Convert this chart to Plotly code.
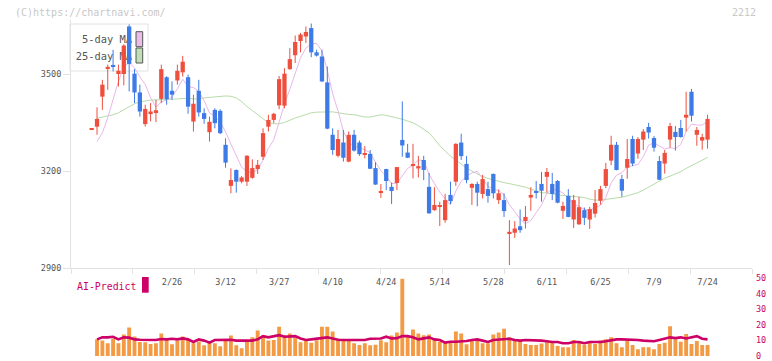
import plotly.graph_objects as go

# ---------------- data ----------------
opens = [3328, 3337, 3430, 3518, 3526, 3500, 3500, 3647, 3501, 3443,
         3345, 3376, 3382, 3423, 3490, 3448, 3480, 3505, 3490, 3353,
         3448, 3379, 3320, 3389, 3386, 3281, 3154, 3203, 3167, 3167,
         3179, 3206, 3244, 3337, 3358, 3403, 3402, 3515, 3558, 3602,
         3616, 3642, 3567, 3554, 3474, 3312, 3247, 3288, 3229, 3312,
         3288, 3250, 3253, 3209, 3132, 3206, 3151, 3163, 3296, 3257,
         3217, 3208, 3234, 3151, 3079, 3089, 3048, 3126, 3167, 3288,
         3222, 3148, 3160, 3129, 3144, 3191, 3110, 3110, 3007, 3009,
         3029, 3045, 3118, 3135, 3160, 3182, 3160, 3169, 3077, 3123,
         3050, 3035, 3079, 3050, 3068, 3108, 3154, 3232, 3281, 3175,
         3210, 3299, 3254, 3297, 3336, 3302, 3231, 3223, 3297, 3321,
         3333, 3365, 3445, 3312, 3294, 3297]
highs = [3333, 3397, 3482, 3529, 3575, 3529, 3592, 3653, 3515, 3467,
         3405, 3410, 3420, 3529, 3493, 3477, 3529, 3556, 3498, 3436,
         3482, 3394, 3368, 3394, 3391, 3301, 3208, 3205, 3184, 3249,
         3236, 3234, 3332, 3374, 3380, 3494, 3518, 3580, 3619, 3627,
         3647, 3656, 3575, 3575, 3523, 3332, 3327, 3327, 3322, 3327,
         3294, 3277, 3265, 3227, 3160, 3207, 3164, 3213, 3415, 3284,
         3284, 3247, 3247, 3194, 3150, 3105, 3129, 3167, 3286, 3315,
         3246, 3162, 3167, 3188, 3167, 3192, 3143, 3131, 3048, 3045,
         3081, 3092, 3150, 3169, 3197, 3209, 3194, 3172, 3105, 3144,
         3126, 3120, 3087, 3089, 3141, 3154, 3225, 3309, 3290, 3188,
         3299, 3309, 3305, 3330, 3349, 3308, 3246, 3265, 3349, 3339,
         3358, 3445, 3454, 3336, 3315, 3374]
lows = [3327, 3312, 3389, 3451, 3508, 3461, 3465, 3446, 3410, 3368,
        3337, 3353, 3351, 3410, 3405, 3420, 3467, 3492, 3377, 3322,
        3368, 3346, 3291, 3332, 3314, 3210, 3131, 3133, 3162, 3154,
        3176, 3191, 3234, 3322, 3348, 3391, 3394, 3513, 3534, 3567,
        3596, 3552, 3554, 3475, 3329, 3250, 3242, 3229, 3227, 3260,
        3247, 3239, 3206, 3157, 3117, 3141, 3098, 3141, 3244, 3240,
        3177, 3180, 3172, 3068, 3077, 3030, 3040, 3098, 3154, 3234,
        3162, 3095, 3091, 3115, 3102, 3115, 3098, 3058, 2909, 2993,
        3009, 3022, 3077, 3115, 3105, 3133, 3110, 3100, 3052, 3057,
        3024, 3034, 3033, 3021, 3056, 3096, 3147, 3218, 3202, 3120,
        3176, 3215, 3238, 3265, 3300, 3260, 3172, 3192, 3272, 3263,
        3303, 3322, 3353, 3278, 3266, 3269]
closes = [3331, 3361, 3467, 3522, 3524, 3510, 3588, 3531, 3443, 3384,
          3392, 3384, 3388, 3515, 3422, 3436, 3510, 3538, 3399, 3408,
          3381, 3361, 3352, 3348, 3317, 3226, 3172, 3167, 3180, 3247,
          3209, 3219, 3317, 3358, 3377, 3484, 3501, 3546, 3599, 3622,
          3630, 3567, 3557, 3477, 3331, 3265, 3299, 3241, 3312, 3263,
          3252, 3253, 3207, 3158, 3135, 3169, 3138, 3212, 3279, 3241,
          3221, 3215, 3203, 3069, 3095, 3092, 3110, 3107, 3284, 3246,
          3172, 3160, 3133, 3175, 3123, 3131, 3131, 3076, 3012, 3022,
          3017, 3058, 3126, 3133, 3139, 3197, 3129, 3102, 3092, 3058,
          3110, 3088, 3055, 3082, 3101, 3144, 3206, 3281, 3203, 3139,
          3237, 3223, 3299, 3322, 3319, 3272, 3173, 3256, 3339, 3305,
          3305, 3374, 3371, 3327, 3305, 3361]

# 5-day and 25-day moving averages (first candle has none)
ma5 = [None,
       3291, 3318, 3365, 3420, 3477, 3522, 3535, 3519, 3491, 3468,
       3427, 3398, 3413, 3420, 3429, 3454, 3484, 3461, 3458, 3447,
       3417, 3380, 3370, 3352, 3321, 3283, 3246, 3212, 3198, 3195,
       3204, 3234, 3270, 3296, 3351, 3407, 3453, 3501, 3550, 3580,
       3593, 3595, 3571, 3512, 3439, 3386, 3323, 3290, 3276, 3273,
       3264, 3257, 3227, 3201, 3184, 3161, 3162, 3187, 3208, 3218,
       3234, 3232, 3190, 3161, 3135, 3114, 3095, 3138, 3168, 3184,
       3194, 3199, 3177, 3153, 3144, 3139, 3127, 3095, 3074, 3052,
       3037, 3047, 3071, 3095, 3131, 3145, 3140, 3132, 3116, 3098,
       3090, 3081, 3079, 3087, 3094, 3118, 3163, 3187, 3195, 3213,
       3217, 3220, 3244, 3280, 3287, 3277, 3268, 3272, 3269, 3282,
       3322, 3345, 3342, 3342, 3354]
ma25 = [None,
        3363, 3366, 3369, 3374, 3380, 3389, 3398, 3408, 3414, 3417,
        3419, 3420, 3420, 3422, 3422, 3423, 3425, 3425, 3423, 3423,
        3426, 3428, 3429, 3431, 3432, 3431, 3426, 3415, 3399, 3387,
        3375, 3363, 3349, 3346, 3346, 3350, 3358, 3364, 3369, 3374,
        3380, 3382, 3383, 3384, 3383, 3380, 3377, 3375, 3374, 3370,
        3367, 3367, 3370, 3374, 3372, 3369, 3364, 3360, 3355, 3349,
        3340, 3330, 3318, 3299, 3278, 3262, 3246, 3234, 3222, 3209,
        3200, 3191, 3183, 3177, 3172, 3167, 3164, 3161, 3158, 3155,
        3150, 3144, 3138, 3133, 3132, 3129, 3126, 3124, 3123, 3121,
        3120, 3118, 3113, 3110, 3110, 3112, 3115, 3116, 3119, 3123,
        3127, 3133, 3141, 3150, 3161, 3170, 3178, 3184, 3191, 3198,
        3208, 3217, 3226, 3234, 3242]

# lower panel: volume bars and AI-Predict line
volume = [None,
          10.7, 9.9, 8.2, 11.1, 8.2, 13.9, 18.3, 12.6, 9.0, 8.8,
          7.8, 8.2, 14.5, 10.5, 7.6, 9.9, 12.6, 10.7, 8.2, 9.4,
          6.9, 8.6, 8.2, 6.3, 10.3, 13.2, 6.9, 5.0, 9.0, 12.0,
          16.4, 13.2, 9.9, 10.3, 18.9, 13.4, 14.5, 11.8, 8.8, 9.6,
          8.6, 10.1, 18.9, 18.9, 15.7, 11.1, 10.3, 9.9, 8.2, 7.1,
          8.2, 6.9, 7.3, 10.1, 8.8, 13.2, 15.1, 49.7, 13.2,
          17.0, 14.5, 13.4, 13.9, 11.3, 9.2, 8.8, 8.8, 15.7, 14.5,
          7.6, 9.9, 9.6, 8.2, 8.2, 13.9, 15.1, 17.6, 12.0, 9.9,
          9.9, 7.8, 7.1, 7.1, 8.0, 9.0, 9.2, 6.5, 5.7, 5.7,
          10.3, 9.6, 7.3, 9.0, 7.8, 9.9, 10.7, 12.0, 8.2, 5.7,
          9.9, 7.1, 4.4, 5.7, 5.7, 4.4, 7.8, 8.6, 19.1, 10.7,
          9.2, 14.1, 7.8, 9.6, 7.1, 7.1]
ai_predict = [None,
              10.7, 12.0, 12.0, 12.4, 10.7, 12.0, 11.8, 10.7, 10.5, 10.3,
              10.1, 10.3, 10.9, 10.7, 11.1, 10.7, 11.3, 10.7, 9.0, 10.7,
              9.9, 8.6, 10.3, 10.5, 10.5, 10.5, 9.9, 9.9, 9.9, 9.9,
              10.7, 12.8, 12.0, 12.8, 13.4, 12.4, 12.4, 12.8, 11.3, 10.3,
              10.7, 11.1, 11.5, 12.0, 11.3, 10.5, 10.3, 10.3, 10.3, 10.7,
              10.3, 11.1, 11.3, 11.3, 12.4, 11.3, 11.5, 12.8, 12.8,
              12.0, 10.7, 11.5, 12.0, 10.7, 10.3, 8.6, 9.2, 9.2, 9.2,
              9.6, 10.3, 10.7, 9.9, 9.0, 10.3, 10.7, 11.1, 11.1, 10.3,
              9.9, 10.3, 10.3, 10.3, 9.9, 9.5, 9.0, 9.0, 8.2, 8.2,
              9.0, 9.0, 8.2, 9.0, 9.0, 9.0, 9.5, 10.3, 10.7, 10.7,
              10.7, 10.7, 10.3, 9.9, 9.9, 9.5, 10.3, 11.1, 12.0, 11.5,
              12.0, 11.3, 12.0, 12.8, 11.1, 10.7]

date_labels = ["2/26", "3/12", "3/27", "4/10", "4/24", "5/14",
               "5/28", "6/11", "6/25", "7/9", "7/24"]
date_label_index = [15, 25, 35, 45, 55, 65, 75, 85, 95, 105, 115]
price_ticks = [2900, 3200, 3500]
volume_ticks = [0, 10, 20, 30, 40, 50]

# ---------------- styling ----------------
RED = "#ef4f3e"
BLUE = "#3e7be7"
PINK = "#e9b7e9"
GREEN = "#b6dca8"
ORANGE = "#f39a44"
CRIMSON = "#cc0066"
AXIS = "#e2e2e2"
MONO = "DejaVu Sans Mono"

W, H = 772, 361
M_L, M_R, M_T, M_B = 71, 20, 20, 5
X_RANGE = [-3.86, 123.3]
Y_RANGE = [2900, 3667]


def px_x(p):
    return (p - M_L) / float(W - M_L - M_R)


def px_y(p):
    return (H - M_B - p) / float(H - M_T - M_B)


MAIN_DOMAIN = [px_y(268), 1.0]
SUB_DOMAIN = [0.0, px_y(278.3)]

idx = list(range(len(closes)))
fig = go.Figure()

# legend text drawn on the base subplot so the candles can cover it
fig.add_trace(go.Scatter(
    x=[7.55, 7.55], y=[3605, 3552], mode="text",
    text=["5-day MA", "25-day MA"], textposition="middle left",
    textfont=dict(family=MONO, size=10.4, color="#555555"),
    hoverinfo="skip", xaxis="x", yaxis="y"))

# moving averages
fig.add_trace(go.Scatter(x=idx, y=ma25, mode="lines",
                         line=dict(color=GREEN, width=1), xaxis="x", yaxis="y"))
fig.add_trace(go.Scatter(x=idx, y=ma5, mode="lines",
                         line=dict(color=PINK, width=1), xaxis="x", yaxis="y"))

# candles on an overlaying subplot (drawn above the base layer)
for up, col in ((True, RED), (False, BLUE)):
    sel = [i for i in idx if (closes[i] >= opens[i]) == up]
    base = [min(opens[i], closes[i]) for i in sel]
    hgt = [max(abs(closes[i] - opens[i]), 4) for i in sel]
    fig.add_trace(go.Bar(x=sel, y=hgt, base=base, width=0.8,
                         marker=dict(color=col, line=dict(width=0)),
                         xaxis="x3", yaxis="y3"))
    wx, wy = [], []
    for i in sel:
        wx += [i, i, None]
        wy += [lows[i], highs[i], None]
    fig.add_trace(go.Scatter(x=wx, y=wy, mode="lines",
                             line=dict(color=col, width=1),
                             xaxis="x3", yaxis="y3"))

# lower panel
fig.add_trace(go.Bar(x=idx, y=volume, width=0.72,
                     marker=dict(color=ORANGE, line=dict(width=0)),
                     xaxis="x2", yaxis="y2"))
fig.add_trace(go.Scatter(x=idx, y=ai_predict, mode="lines",
                         line=dict(color=CRIMSON, width=2.6),
                         xaxis="x2", yaxis="y2"))

n_div = 11
grid_ticks = [X_RANGE[0] + k * (X_RANGE[1] - X_RANGE[0]) / n_div for k in range(n_div + 1)]
grid_ticks[-1] -= 1e-6

fig.update_layout(
    width=W, height=H,
    margin=dict(l=M_L, r=M_R, t=M_T, b=M_B, autoexpand=False),
    paper_bgcolor="white", plot_bgcolor="white",
    showlegend=False, barmode="overlay",
    xaxis=dict(domain=[0, 1], range=X_RANGE, anchor="y",
               showline=True, linecolor=AXIS, linewidth=1,
               ticks="", tickvals=date_label_index, ticktext=date_labels,
               tickfont=dict(family=MONO, size=8.5, color="#555555"),
               ticklabelstandoff=6,
               showgrid=False, zeroline=False),
    yaxis=dict(domain=MAIN_DOMAIN, range=Y_RANGE, anchor="x",
               showline=True, linecolor=AXIS, linewidth=1,
               ticks="outside", ticklen=7, tickcolor=AXIS, tickwidth=1,
               tickvals=price_ticks,
               tickfont=dict(family=MONO, size=8.5, color="#555555"),
               showgrid=False, zeroline=False),
    xaxis3=dict(overlaying="x", range=X_RANGE, anchor="y3",
                showline=False, ticks="outside", ticklen=5,
                tickcolor=AXIS, tickwidth=1, tickvals=grid_ticks,
                showticklabels=False, showgrid=False, zeroline=False),
    yaxis3=dict(overlaying="y", range=Y_RANGE, anchor="x3", visible=False),
    xaxis2=dict(domain=[0, 1], range=X_RANGE, anchor="y2", visible=False),
    yaxis2=dict(domain=SUB_DOMAIN, range=[0, 50], anchor="x2", side="right",
                showline=False, ticks="", tickvals=volume_ticks,
                tickfont=dict(family=MONO, size=8.5, color=CRIMSON),
                ticklabelstandoff=3, ticklabeloverflow="allow",
                showgrid=False, zeroline=False),
)

shapes = [
    dict(type="rect", xref="paper", yref="paper", layer="below",
         x0=px_x(70), x1=px_x(148), y0=px_y(71), y1=px_y(24),
         fillcolor="white", line=dict(color=AXIS, width=1)),
    dict(type="rect", xref="paper", yref="paper", layer="below",
         x0=px_x(136), x1=px_x(142.7), y0=px_y(46.7), y1=px_y(31.7),
         fillcolor="#e8bde8", line=dict(color="#555555", width=1)),
    dict(type="rect", xref="paper", yref="paper", layer="below",
         x0=px_x(136), x1=px_x(142.7), y0=px_y(63), y1=px_y(48),
         fillcolor="#bfe0b4", line=dict(color="#555555", width=1)),
    dict(type="rect", xref="paper", yref="paper",
         x0=px_x(142), x1=px_x(148.7), y0=px_y(292.7), y1=px_y(277),
         fillcolor=CRIMSON, line=dict(width=0)),
]
fig.update_layout(shapes=shapes)

fig.update_layout(annotations=[
    dict(text="(C)https://chartnavi.com/", xref="paper", yref="paper",
         x=px_x(13), y=px_y(12), xanchor="left", yanchor="middle",
         showarrow=False, font=dict(family=MONO, size=10, color="#c8c8c8")),
    dict(text="2212", xref="paper", yref="paper",
         x=px_x(758), y=px_y(12), xanchor="right", yanchor="middle",
         showarrow=False, font=dict(family=MONO, size=10, color="#c8c8c8")),
    dict(text="AI-Predict", xref="paper", yref="paper",
         x=px_x(74.7), y=px_y(286), xanchor="left", yanchor="middle",
         showarrow=False, font=dict(family=MONO, size=9.9, color=CRIMSON)),
])

fig.write_html("out.html")
